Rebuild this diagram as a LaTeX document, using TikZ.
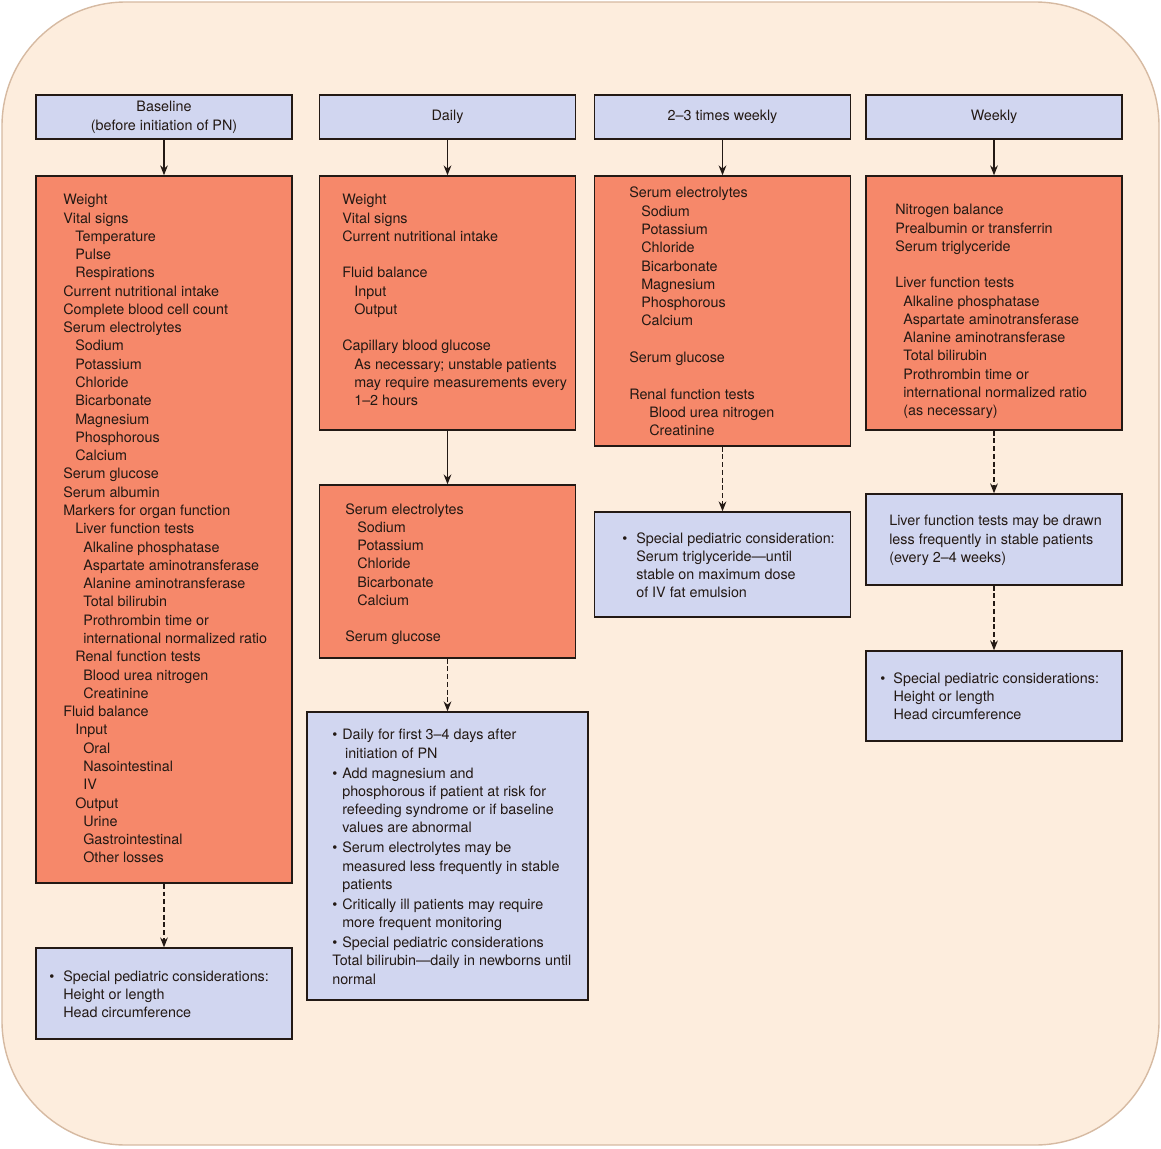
\documentclass[tikz,border=0pt]{standalone}
\usepackage{fontspec}
\setmainfont{TeX Gyre Heros}
\usetikzlibrary{arrows.meta, positioning}
\definecolor{peach}{RGB}{253,237,221}
\definecolor{framecolor}{RGB}{214,186,162}
\definecolor{salmon}{RGB}{246,136,106}
\definecolor{lavender}{RGB}{209,214,240}
\definecolor{ink}{RGB}{35,25,20}
\newcommand{\indA}{\hspace*{0.3cm}}
\newcommand{\indB}{\hspace*{0.5cm}}
\newcommand{\indC}{\hspace*{0.2cm}}
\newcommand{\bul}[1]{\makebox[#1][l]{\textbullet}}

\begin{document}
\begin{tikzpicture}[
    x=0.025cm, y=-0.025cm,
    >={Stealth[length=7pt, width=5.5pt]},
    plainbox/.style={rectangle, draw=ink, line width=1pt, minimum width=6.4cm, inner sep=0pt},
    head/.style={plainbox, fill=lavender, minimum height=1.1cm, align=center, font=\fontsize{10.2}{13.5}\selectfont, text=ink},
    obox/.style={plainbox, fill=salmon},
    bbox/.style={plainbox, fill=lavender},
    txt/.style={anchor=north west, inner sep=0pt, align=left, font=\fontsize{10.2}{13}\selectfont, text=ink},
    link/.style={->, line width=0.9pt, draw=ink},
    dlink/.style={link, dash pattern=on 3.5pt off 2pt}
]
\useasboundingbox (0,0) rectangle (1161,1148);
\draw[draw=framecolor, fill=peach, line width=1pt, rounded corners=3.1cm] (2,2) rectangle (1159,1145);

% headers
\node[head] (hbase) at (164,117) {Baseline\\(before initiation of PN)};
\node[head] (hdaily) at (447.5,117) {Daily};
\node[head] (htri) at (722.5,117) {2–3 times weekly};
\node[head] (hweek) at (994,117) {Weekly};

% baseline column
\node[obox, minimum height=17.675cm] (obase) at (164,529.5) {};
\node[txt] (tbase) at (63,194) {Weight\\
Vital signs\\
\indA Temperature\\
\indA Pulse\\
\indA Respirations\\
Current nutritional intake\\
Complete blood cell count\\
Serum electrolytes\\
\indA Sodium\\
\indA Potassium\\
\indA Chloride\\
\indA Bicarbonate\\
\indA Magnesium\\
\indA Phosphorous\\
\indA Calcium\\
Serum glucose\\
Serum albumin\\
Markers for organ function\\
\indA Liver function tests\\
\indB Alkaline phosphatase\\
\indB Aspartate aminotransferase\\
\indB Alanine aminotransferase\\
\indB Total bilirubin\\
\indB Prothrombin time or\\
\indB international normalized ratio\\
\indA Renal function tests\\
\indB Blood urea nitrogen\\
\indB Creatinine\\
Fluid balance\\
\indA Input\\
\indB Oral\\
\indB Nasointestinal\\
\indB IV\\
\indA Output\\
\indB Urine\\
\indB Gastrointestinal\\
\indB Other losses};
\node[bbox, minimum height=2.275cm] (pbase) at (164,993.5) {};
\node[txt] (tpbase) at (49,970) {\bul{0.35cm}Special pediatric considerations:\\
\hspace*{0.35cm}Height or length\\
\hspace*{0.35cm}Head circumference};

% daily column
\node[obox, minimum height=6.35cm] (odaily) at (447.5,303) {};
\node[txt] (tdaily) at (342,194) {Weight\\
Vital signs\\
Current nutritional intake\\[13pt]
Fluid balance\\
\indA Input\\
\indA Output\\[13pt]
Capillary blood glucose\\
\indA As necessary; unstable patients\\
\indA may require measurements every\\
\indA 1–2 hours};
\node[obox, minimum height=4.325cm] (oelec) at (447.5,571.5) {};
\node[txt] (telec) at (345,503) {Serum electrolytes\\
\indA Sodium\\
\indA Potassium\\
\indA Chloride\\
\indA Bicarbonate\\
\indA Calcium\\[13pt]
Serum glucose};
\node[bbox, minimum width=7.025cm, minimum height=7.2cm] (ndaily) at (447.5,856) {};
\node[txt] (tndaily) at (332,729) {\bul{0.25cm}Daily for first 3–4 days after\\
\hspace*{0.32cm}initiation of PN\\[1.2pt]
\bul{0.25cm}Add magnesium and\\
\hspace*{0.25cm}phosphorous if patient at risk for\\
\hspace*{0.25cm}refeeding syndrome or if baseline\\
\hspace*{0.25cm}values are abnormal\\[1.2pt]
\bul{0.25cm}Serum electrolytes may be\\
\hspace*{0.25cm}measured less frequently in stable\\
\hspace*{0.25cm}patients\\[1.2pt]
\bul{0.25cm}Critically ill patients may require\\
\hspace*{0.25cm}more frequent monitoring\\[1.2pt]
\bul{0.25cm}Special pediatric considerations\\
Total bilirubin—daily in newborns until\\
normal};

% 2-3 times weekly column
\node[obox, minimum height=6.75cm] (otri) at (722.5,311) {};
\node[txt] (ttri) at (629,187) {Serum electrolytes\\
\indA Sodium\\
\indA Potassium\\
\indA Chloride\\
\indA Bicarbonate\\
\indA Magnesium\\
\indA Phosphorous\\
\indA Calcium\\[13pt]
Serum glucose\\[13pt]
Renal function tests\\
\indB Blood urea nitrogen\\
\indB Creatinine};
\node[bbox, minimum height=2.625cm] (ntri) at (722.5,564.5) {};
\node[txt] (tntri) at (622,532) {\bul{0.35cm}Special pediatric consideration:\\
\hspace*{0.35cm}Serum triglyceride—until\\
\hspace*{0.35cm}stable on maximum dose\\
\hspace*{0.35cm}of IV fat emulsion};

% weekly column
\node[obox, minimum height=6.35cm] (oweek) at (994,303) {};
\node[txt] (tweek) at (895,204) {Nitrogen balance\\
Prealbumin or transferrin\\
Serum triglyceride\\[13pt]
Liver function tests\\
\indC Alkaline phosphatase\\
\indC Aspartate aminotransferase\\
\indC Alanine aminotransferase\\
\indC Total bilirubin\\
\indC Prothrombin time or\\
\indC international normalized ratio\\
\indC (as necessary)};
\node[bbox, minimum height=2.275cm] (lweek) at (994,539.5) {};
\node[txt] (tlweek) at (889,515) {Liver function tests may be drawn\\
less frequently in stable patients\\
(every 2–4 weeks)};
\node[bbox, minimum height=2.25cm] (pweek) at (994,696) {};
\node[txt] (tpweek) at (880,672) {\bul{0.33cm}Special pediatric considerations:\\
\hspace*{0.33cm}Height or length\\
\hspace*{0.33cm}Head circumference};

% connectors
\draw[link] (hbase) -- (obase);
\draw[dlink] (obase) -- (pbase);
\draw[link] (hdaily) -- (odaily);
\draw[link] (odaily) -- (oelec);
\draw[dlink] (oelec) -- (ndaily);
\draw[link] (htri) -- (otri);
\draw[dlink] (otri) -- (ntri);
\draw[link] (hweek) -- (oweek);
\draw[dlink] (oweek) -- (lweek);
\draw[dlink] (lweek) -- (pweek);
\end{tikzpicture}
\end{document}
